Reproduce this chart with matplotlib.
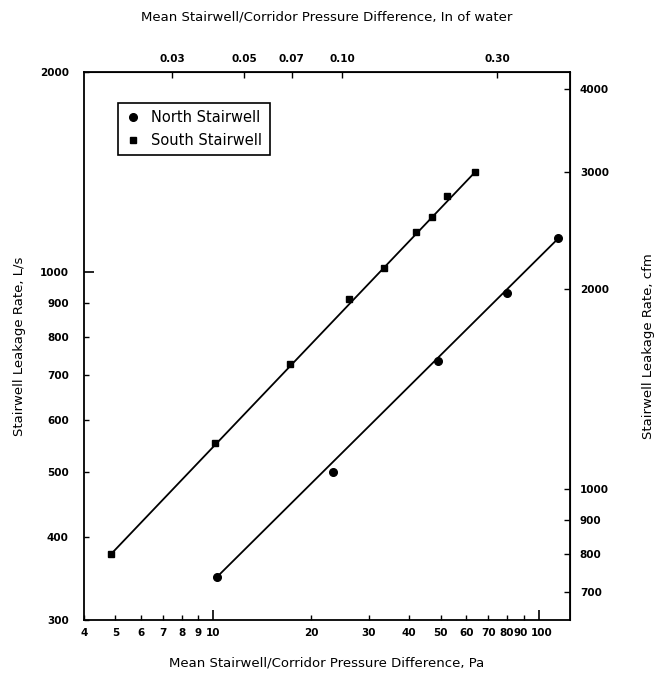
import numpy as np
import matplotlib
matplotlib.use("Agg")
import matplotlib.pyplot as plt
from matplotlib.ticker import FixedLocator, FixedFormatter, NullLocator
from matplotlib.transforms import ScaledTranslation

# Data
south_pa = [4.85, 10.1, 17.2, 26.2, 33.4, 41.9, 46.9, 52.4, 63.8]
south_ls = [377, 553, 728, 910, 1016, 1148, 1212, 1302, 1414]
north_pa = [10.25, 23.4, 49.2, 79.8, 115]
north_ls = [348, 500, 735, 930, 1124]

x_major = [10, 100]
x_minor = [4, 5, 6, 7, 8, 9, 20, 30, 40, 50, 60, 70, 80, 90]
y_major = [1000]
y_minor = [300, 400, 500, 600, 700, 800, 900, 2000]
top_ticks = [0.03, 0.05, 0.07, 0.10, 0.30]
top_labels = ["0.03", "0.05", "0.07", "0.10", "0.30"]
right_ticks = [700, 800, 900, 1000, 2000, 3000, 4000]

PA_PER_INWATER = 249.0
CFM_PER_LS = 2.1189

fig = plt.figure(figsize=(6.66, 6.86), dpi=100)
ax = fig.add_axes([0.126, 0.0962, 0.730, 0.799])
ax.set_xscale("log")
ax.set_yscale("log")
ax.set_xlim(4, 125)
ax.set_ylim(300, 2000)

# straight lines joining first and last points of each series
ax.plot([south_pa[0], south_pa[-1]], [south_ls[0], south_ls[-1]], color="black", lw=1.3)
ax.plot([north_pa[0], north_pa[-1]], [north_ls[0], north_ls[-1]], color="black", lw=1.3)

ax.plot(north_pa, north_ls, "o", color="black", ms=5.5, label="North Stairwell", linestyle="none")
ax.plot(south_pa, south_ls, "s", color="black", ms=5, label="South Stairwell", linestyle="none")

ax.xaxis.set_major_locator(FixedLocator(x_major))
ax.xaxis.set_major_formatter(FixedFormatter([str(v) for v in x_major]))
ax.xaxis.set_minor_locator(FixedLocator(x_minor))
ax.xaxis.set_minor_formatter(FixedFormatter([str(v) for v in x_minor]))
ax.yaxis.set_major_locator(FixedLocator(y_major))
ax.yaxis.set_major_formatter(FixedFormatter([str(v) for v in y_major]))
ax.yaxis.set_minor_locator(FixedLocator(y_minor))
ax.yaxis.set_minor_formatter(FixedFormatter([str(v) for v in y_minor]))

ax.tick_params(which="major", direction="in", length=7, width=1.2, pad=6)
ax.tick_params(which="minor", direction="in", length=3.5, width=1.0, pad=6)
ax.tick_params(axis="y", which="both", pad=11)
for lab in ax.get_xticklabels(which="both") + ax.get_yticklabels(which="both"):
    lab.set_fontsize(7.5)
    lab.set_fontweight("bold")

fig.canvas.draw()
for lab in ax.get_xticklabels(which="both"):
    if lab.get_text() == "90":
        lab.set_transform(lab.get_transform() + ScaledTranslation(-2 / 72, 0, fig.dpi_scale_trans))
    if lab.get_text() == "100":
        lab.set_transform(lab.get_transform() + ScaledTranslation(2.5 / 72, 0, fig.dpi_scale_trans))

for s in ax.spines.values():
    s.set_linewidth(1.3)

# Top axis: inches of water
top = ax.secondary_xaxis("top", functions=(lambda p: p / PA_PER_INWATER,
                                           lambda w: w * PA_PER_INWATER))
top.xaxis.set_major_locator(FixedLocator(top_ticks))
top.xaxis.set_major_formatter(FixedFormatter(top_labels))
top.xaxis.set_minor_locator(NullLocator())
top.tick_params(direction="in", length=4, width=1.0, pad=6, labelsize=7.5)
for lab in top.get_xticklabels():
    lab.set_fontweight("bold")
top.set_xlabel("Mean Stairwell/Corridor Pressure Difference, In of water",
               fontsize=9.5, labelpad=24)

# Right axis: cfm
right = ax.secondary_yaxis("right", functions=(lambda q: q * CFM_PER_LS,
                                               lambda c: c / CFM_PER_LS))
right.yaxis.set_major_locator(FixedLocator(right_ticks))
right.yaxis.set_major_formatter(FixedFormatter([str(v) for v in right_ticks]))
right.yaxis.set_minor_locator(NullLocator())
right.tick_params(direction="in", length=4, width=1.0, pad=7, labelsize=7.5)
for lab in right.get_yticklabels():
    lab.set_fontweight("bold")
right.set_ylabel("Stairwell Leakage Rate, cfm", fontsize=9.5, labelpad=24,
                 rotation=90)

ax.set_xlabel("Mean Stairwell/Corridor Pressure Difference, Pa", fontsize=9.5, labelpad=13)
ax.set_ylabel("Stairwell Leakage Rate, L/s", fontsize=9.5, labelpad=10)

leg = ax.legend(loc="upper left", bbox_to_anchor=(0.07, 0.943), borderaxespad=0,
                fontsize=10.5, frameon=True, fancybox=False, edgecolor="black",
                framealpha=1, handlelength=1.0, handletextpad=0.8, borderpad=0.5,
                labelspacing=0.5)
leg.get_frame().set_linewidth(1.2)

fig.savefig("out.png", dpi=100)
